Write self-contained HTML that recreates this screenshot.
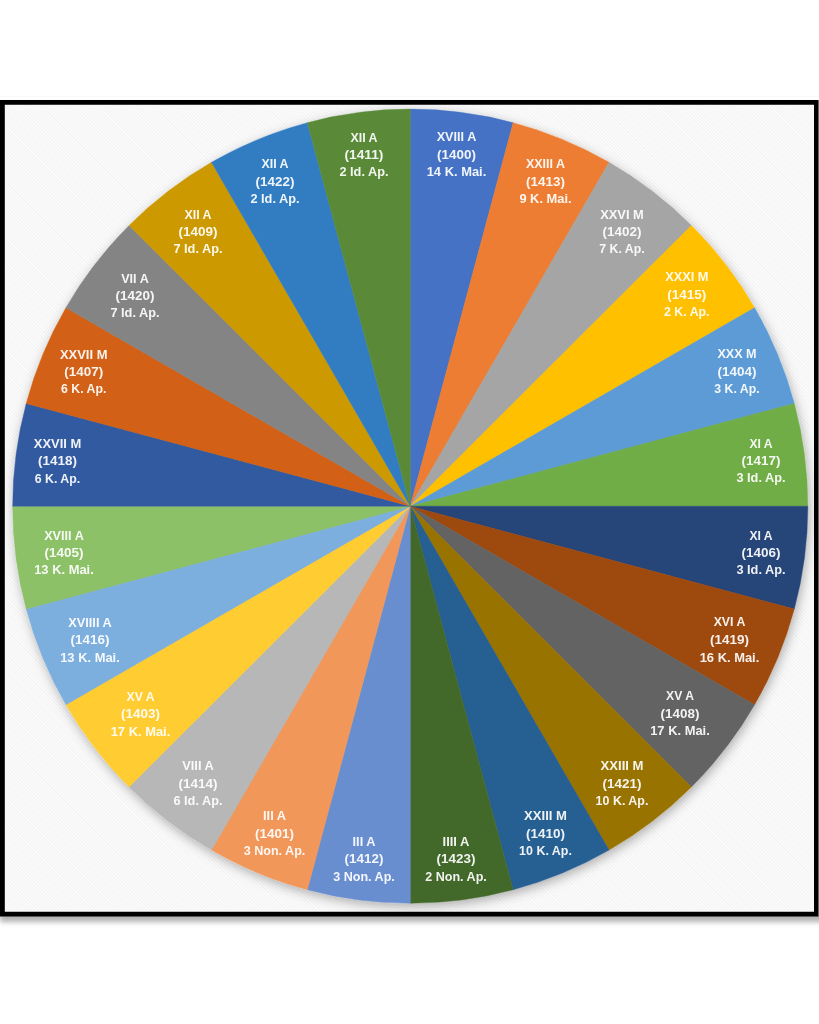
<!DOCTYPE html>
<html lang="la"><head><meta charset="utf-8"><title>Chart</title>
<style>
html,body{margin:0;padding:0;background:#fff;}
body{width:819px;height:1024px;position:relative;overflow:hidden;font-family:"Liberation Sans",sans-serif;}
#frame{position:absolute;left:0;top:100px;width:818.6px;height:816px;
 background-color:#f9f9f9;
 background-image:repeating-linear-gradient(45deg,#f2f2f2 0,#fefefe 1.2px,#f2f2f2 2.4px);
 }
#shadow{position:absolute;left:0;top:100px;width:860px;height:816px;box-shadow:0 6px 5px rgba(0,0,0,.30);}
svg{position:absolute;left:0;top:0;}
text{font-family:"Liberation Sans",sans-serif;font-weight:bold;font-size:13px;fill:#fff;fill-opacity:.92;text-anchor:middle;}
</style></head><body>
<div id="shadow"></div><div id="frame"></div>
<svg width="819" height="1024" viewBox="0 0 819 1024">
<defs><filter id="sh" x="-5%" y="-5%" width="110%" height="110%"><feDropShadow dx="1.5" dy="3.5" stdDeviation="5.2" flood-color="#000" flood-opacity="0.3"/></filter><filter id="soft" x="-2%" y="-2%" width="104%" height="104%"><feGaussianBlur stdDeviation="0.5"/></filter></defs>
<path fill="#000" fill-rule="evenodd" d="M0 100H818.6V916.4H0ZM4.8 104.8V911.7H814V104.8Z"/>
<rect x="0" y="96.2" width="819" height="1" fill="#f8f8f8"/>
<g filter="url(#soft)"><g filter="url(#sh)">
<path d="M410.25 506.2L410.25 109.10A397.6 397.1 0 0 1 513.16 122.63Z" fill="#4472C4" stroke="#4472C4" stroke-width="0.4"/>
<path d="M410.25 506.2L513.16 122.63A397.6 397.1 0 0 1 609.05 162.30Z" fill="#ED7D31" stroke="#ED7D31" stroke-width="0.4"/>
<path d="M410.25 506.2L609.05 162.30A397.6 397.1 0 0 1 691.40 225.41Z" fill="#A5A5A5" stroke="#A5A5A5" stroke-width="0.4"/>
<path d="M410.25 506.2L691.40 225.41A397.6 397.1 0 0 1 754.58 307.65Z" fill="#FFC000" stroke="#FFC000" stroke-width="0.4"/>
<path d="M410.25 506.2L754.58 307.65A397.6 397.1 0 0 1 794.30 403.42Z" fill="#5B9BD5" stroke="#5B9BD5" stroke-width="0.4"/>
<path d="M410.25 506.2L794.30 403.42A397.6 397.1 0 0 1 807.85 506.20Z" fill="#70AD47" stroke="#70AD47" stroke-width="0.4"/>
<path d="M410.25 506.2L807.85 506.20A397.6 397.1 0 0 1 794.30 608.98Z" fill="#264478" stroke="#264478" stroke-width="0.4"/>
<path d="M410.25 506.2L794.30 608.98A397.6 397.1 0 0 1 754.58 704.75Z" fill="#9E480E" stroke="#9E480E" stroke-width="0.4"/>
<path d="M410.25 506.2L754.58 704.75A397.6 397.1 0 0 1 691.40 786.99Z" fill="#636363" stroke="#636363" stroke-width="0.4"/>
<path d="M410.25 506.2L691.40 786.99A397.6 397.1 0 0 1 609.05 850.10Z" fill="#997300" stroke="#997300" stroke-width="0.4"/>
<path d="M410.25 506.2L609.05 850.10A397.6 397.1 0 0 1 513.16 889.77Z" fill="#255E91" stroke="#255E91" stroke-width="0.4"/>
<path d="M410.25 506.2L513.16 889.77A397.6 397.1 0 0 1 410.25 903.30Z" fill="#43682B" stroke="#43682B" stroke-width="0.4"/>
<path d="M410.25 506.2L410.25 903.30A397.6 397.1 0 0 1 307.34 889.77Z" fill="#698ED0" stroke="#698ED0" stroke-width="0.4"/>
<path d="M410.25 506.2L307.34 889.77A397.6 397.1 0 0 1 211.45 850.10Z" fill="#F1975A" stroke="#F1975A" stroke-width="0.4"/>
<path d="M410.25 506.2L211.45 850.10A397.6 397.1 0 0 1 129.10 786.99Z" fill="#B7B7B7" stroke="#B7B7B7" stroke-width="0.4"/>
<path d="M410.25 506.2L129.10 786.99A397.6 397.1 0 0 1 65.92 704.75Z" fill="#FFCD33" stroke="#FFCD33" stroke-width="0.4"/>
<path d="M410.25 506.2L65.92 704.75A397.6 397.1 0 0 1 26.20 608.98Z" fill="#7CAFDD" stroke="#7CAFDD" stroke-width="0.4"/>
<path d="M410.25 506.2L26.20 608.98A397.6 397.1 0 0 1 12.65 506.20Z" fill="#8CC168" stroke="#8CC168" stroke-width="0.4"/>
<path d="M410.25 506.2L12.65 506.20A397.6 397.1 0 0 1 26.20 403.42Z" fill="#335AA1" stroke="#335AA1" stroke-width="0.4"/>
<path d="M410.25 506.2L26.20 403.42A397.6 397.1 0 0 1 65.92 307.65Z" fill="#D26012" stroke="#D26012" stroke-width="0.4"/>
<path d="M410.25 506.2L65.92 307.65A397.6 397.1 0 0 1 129.10 225.41Z" fill="#848484" stroke="#848484" stroke-width="0.4"/>
<path d="M410.25 506.2L129.10 225.41A397.6 397.1 0 0 1 211.45 162.30Z" fill="#CC9A00" stroke="#CC9A00" stroke-width="0.4"/>
<path d="M410.25 506.2L211.45 162.30A397.6 397.1 0 0 1 307.34 122.63Z" fill="#327DC2" stroke="#327DC2" stroke-width="0.4"/>
<path d="M410.25 506.2L307.34 122.63A397.6 397.1 0 0 1 410.25 109.10Z" fill="#5A8A39" stroke="#5A8A39" stroke-width="0.4"/>
</g>
<g>
<text x="456.5" y="141.2" textLength="39.6" lengthAdjust="spacingAndGlyphs">XVIII A</text>
<text x="456.5" y="158.7" textLength="38.9" lengthAdjust="spacingAndGlyphs">(1400)</text>
<text x="456.5" y="175.7" textLength="59.6" lengthAdjust="spacingAndGlyphs">14 K. Mai.</text>
<text x="545.5" y="168.3" textLength="39.1" lengthAdjust="spacingAndGlyphs">XXIII A</text>
<text x="545.5" y="185.8" textLength="38.9" lengthAdjust="spacingAndGlyphs">(1413)</text>
<text x="545.5" y="202.8" textLength="52.2" lengthAdjust="spacingAndGlyphs">9 K. Mai.</text>
<text x="622" y="218.9" textLength="43.6" lengthAdjust="spacingAndGlyphs">XXVI M</text>
<text x="622" y="235.8" textLength="38.9" lengthAdjust="spacingAndGlyphs">(1402)</text>
<text x="622" y="252.8" textLength="45.4" lengthAdjust="spacingAndGlyphs">7 K. Ap.</text>
<text x="686.8" y="281.2" textLength="43.2" lengthAdjust="spacingAndGlyphs">XXXI M</text>
<text x="686.8" y="298.7" textLength="38.9" lengthAdjust="spacingAndGlyphs">(1415)</text>
<text x="686.8" y="315.7" textLength="45.4" lengthAdjust="spacingAndGlyphs">2 K. Ap.</text>
<text x="737" y="358.2" textLength="39.2" lengthAdjust="spacingAndGlyphs">XXX M</text>
<text x="737" y="375.7" textLength="38.9" lengthAdjust="spacingAndGlyphs">(1404)</text>
<text x="737" y="392.7" textLength="45.4" lengthAdjust="spacingAndGlyphs">3 K. Ap.</text>
<text x="761" y="447.8" textLength="23.2" lengthAdjust="spacingAndGlyphs">XI A</text>
<text x="761" y="464.9" textLength="38.9" lengthAdjust="spacingAndGlyphs">(1417)</text>
<text x="761" y="482.1" textLength="49.2" lengthAdjust="spacingAndGlyphs">3 Id. Ap.</text>
<text x="761" y="540.3" textLength="23.2" lengthAdjust="spacingAndGlyphs">XI A</text>
<text x="761" y="556.9" textLength="38.9" lengthAdjust="spacingAndGlyphs">(1406)</text>
<text x="761" y="574.4" textLength="49.2" lengthAdjust="spacingAndGlyphs">3 Id. Ap.</text>
<text x="729.5" y="626.2" textLength="31.7" lengthAdjust="spacingAndGlyphs">XVI A</text>
<text x="729.5" y="643.7" textLength="38.9" lengthAdjust="spacingAndGlyphs">(1419)</text>
<text x="729.5" y="661.7" textLength="59.6" lengthAdjust="spacingAndGlyphs">16 K. Mai.</text>
<text x="680" y="700.2" textLength="27.8" lengthAdjust="spacingAndGlyphs">XV A</text>
<text x="680" y="717.7" textLength="38.9" lengthAdjust="spacingAndGlyphs">(1408)</text>
<text x="680" y="734.7" textLength="59.6" lengthAdjust="spacingAndGlyphs">17 K. Mai.</text>
<text x="622" y="770.2" textLength="42.9" lengthAdjust="spacingAndGlyphs">XXIII M</text>
<text x="622" y="787.7" textLength="38.9" lengthAdjust="spacingAndGlyphs">(1421)</text>
<text x="622" y="804.7" textLength="52.8" lengthAdjust="spacingAndGlyphs">10 K. Ap.</text>
<text x="545.5" y="820.2" textLength="42.9" lengthAdjust="spacingAndGlyphs">XXIII M</text>
<text x="545.5" y="837.7" textLength="38.9" lengthAdjust="spacingAndGlyphs">(1410)</text>
<text x="545.5" y="854.7" textLength="52.8" lengthAdjust="spacingAndGlyphs">10 K. Ap.</text>
<text x="456" y="846.0" textLength="26.8" lengthAdjust="spacingAndGlyphs">IIII A</text>
<text x="456" y="863.3" textLength="38.9" lengthAdjust="spacingAndGlyphs">(1423)</text>
<text x="456" y="880.5" textLength="61.7" lengthAdjust="spacingAndGlyphs">2 Non. Ap.</text>
<text x="364" y="846.0" textLength="22.9" lengthAdjust="spacingAndGlyphs">III A</text>
<text x="364" y="863.3" textLength="38.9" lengthAdjust="spacingAndGlyphs">(1412)</text>
<text x="364" y="880.5" textLength="61.7" lengthAdjust="spacingAndGlyphs">3 Non. Ap.</text>
<text x="274.5" y="820.2" textLength="22.9" lengthAdjust="spacingAndGlyphs">III A</text>
<text x="274.5" y="837.7" textLength="38.9" lengthAdjust="spacingAndGlyphs">(1401)</text>
<text x="274.5" y="854.7" textLength="61.7" lengthAdjust="spacingAndGlyphs">3 Non. Ap.</text>
<text x="198" y="770.2" textLength="31.5" lengthAdjust="spacingAndGlyphs">VIII A</text>
<text x="198" y="787.7" textLength="38.9" lengthAdjust="spacingAndGlyphs">(1414)</text>
<text x="198" y="804.7" textLength="49.2" lengthAdjust="spacingAndGlyphs">6 Id. Ap.</text>
<text x="140.5" y="700.7" textLength="27.8" lengthAdjust="spacingAndGlyphs">XV A</text>
<text x="140.5" y="717.7" textLength="38.9" lengthAdjust="spacingAndGlyphs">(1403)</text>
<text x="140.5" y="735.7" textLength="59.6" lengthAdjust="spacingAndGlyphs">17 K. Mai.</text>
<text x="90" y="626.7" textLength="43.5" lengthAdjust="spacingAndGlyphs">XVIIII A</text>
<text x="90" y="643.7" textLength="38.9" lengthAdjust="spacingAndGlyphs">(1416)</text>
<text x="90" y="661.7" textLength="59.6" lengthAdjust="spacingAndGlyphs">13 K. Mai.</text>
<text x="64" y="540.4" textLength="39.6" lengthAdjust="spacingAndGlyphs">XVIII A</text>
<text x="64" y="557.2" textLength="38.9" lengthAdjust="spacingAndGlyphs">(1405)</text>
<text x="64" y="574.4" textLength="59.6" lengthAdjust="spacingAndGlyphs">13 K. Mai.</text>
<text x="57.5" y="447.8" textLength="47.5" lengthAdjust="spacingAndGlyphs">XXVII M</text>
<text x="57.5" y="465.1" textLength="38.9" lengthAdjust="spacingAndGlyphs">(1418)</text>
<text x="57.5" y="482.5" textLength="45.4" lengthAdjust="spacingAndGlyphs">6 K. Ap.</text>
<text x="83.7" y="359.3" textLength="47.5" lengthAdjust="spacingAndGlyphs">XXVII M</text>
<text x="83.7" y="376.3" textLength="38.9" lengthAdjust="spacingAndGlyphs">(1407)</text>
<text x="83.7" y="393.4" textLength="45.4" lengthAdjust="spacingAndGlyphs">6 K. Ap.</text>
<text x="135" y="282.7" textLength="27.6" lengthAdjust="spacingAndGlyphs">VII A</text>
<text x="135" y="299.7" textLength="38.9" lengthAdjust="spacingAndGlyphs">(1420)</text>
<text x="135" y="316.7" textLength="49.2" lengthAdjust="spacingAndGlyphs">7 Id. Ap.</text>
<text x="198" y="218.7" textLength="27.1" lengthAdjust="spacingAndGlyphs">XII A</text>
<text x="198" y="235.7" textLength="38.9" lengthAdjust="spacingAndGlyphs">(1409)</text>
<text x="198" y="252.7" textLength="49.2" lengthAdjust="spacingAndGlyphs">7 Id. Ap.</text>
<text x="275" y="168.3" textLength="27.1" lengthAdjust="spacingAndGlyphs">XII A</text>
<text x="275" y="185.8" textLength="38.9" lengthAdjust="spacingAndGlyphs">(1422)</text>
<text x="275" y="202.8" textLength="49.2" lengthAdjust="spacingAndGlyphs">2 Id. Ap.</text>
<text x="364" y="141.7" textLength="27.1" lengthAdjust="spacingAndGlyphs">XII A</text>
<text x="364" y="158.7" textLength="38.9" lengthAdjust="spacingAndGlyphs">(1411)</text>
<text x="364" y="175.7" textLength="49.2" lengthAdjust="spacingAndGlyphs">2 Id. Ap.</text>
</g></g>
</svg>
</body></html>
